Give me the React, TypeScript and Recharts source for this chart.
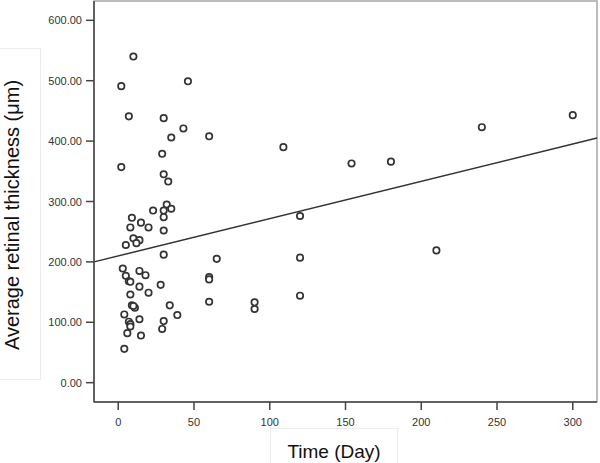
import {
  ScatterChart,
  Scatter,
  XAxis,
  YAxis,
  ReferenceLine,
  ReferenceArea,
  Label,
} from 'recharts';

// days since onset
const days = [
  10, 2, 46, 7, 30, 43, 35, 60, 29, 2, 30, 33, 109, 120, 65, 120, 60, 60, 60, 90, 90, 120,
  154, 180, 240, 300, 210,
  23, 32, 30, 35, 30, 9, 15, 8, 20, 30, 10, 14, 12, 5, 30, 3, 14, 18, 5,
  7, 8, 14, 28, 8, 20, 9, 11, 10, 34, 4, 39, 14, 30, 7, 8, 8, 29, 6, 15, 4,
];

// average retinal thickness (um)
const thickness = [
  540, 491, 499, 441, 438, 421, 406, 408, 379, 357, 345, 333, 390, 276, 205, 207, 175, 171, 134, 133, 122, 144,
  363, 366, 423, 443, 219,
  285, 295, 285, 288, 274, 273, 265, 257, 257, 252, 239, 236, 231, 228, 212, 189, 185, 178, 177,
  168, 167, 159, 162, 146, 149, 128, 124, 127, 128, 113, 112, 105, 102, 101, 97, 93, 89, 82, 78, 56,
];

const xTicks = [0, 50, 100, 150, 200, 250, 300];
const yTicks = [0, 100, 200, 300, 400, 500, 600];

// fitted line end points at the plot edges
const fitX = [-16, 316];
const fitY = [200, 405];

const points = days.map((d, i) => ({ day: d, value: thickness[i] }));

const font = '"Liberation Sans", Arial, sans-serif';

const OpenCircle = (props: any) => {
  const { cx, cy } = props;
  if (cx == null || cy == null) return null;
  return <circle cx={cx} cy={cy} r={3.2} fill="#fff" stroke="#333" strokeWidth={1.7} />;
};

const XTick = (props: any) => {
  const { x, y, payload } = props;
  return (
    <text x={x} y={y + 10} textAnchor="middle" fill="#333" fontSize={11} fontFamily={font}>
      {payload.value}
    </text>
  );
};

const YTick = (props: any) => {
  const { x, y, payload } = props;
  return (
    <text x={x} y={y + 4} textAnchor="end" fill="#333" fontSize={11} fontFamily={font}>
      {payload.value.toFixed(2)}
    </text>
  );
};

// label boxes as in the SPSS export
const XTitle = () => (
  <g>
    <rect x={270.5} y={428.5} width={127} height={40} fill="none" stroke="#ececec" />
    <text x={334} y={458} textAnchor="middle" fill="#111" fontSize={19} fontFamily={font}>
      Time (Day)
    </text>
  </g>
);

const YTitle = () => (
  <g>
    <rect x={-5} y={48.5} width={45.5} height={331} fill="none" stroke="#ececec" />
    <text
      x={19}
      y={215}
      transform="rotate(-90 19 215)"
      textAnchor="middle"
      fill="#111"
      fontSize={20}
      fontFamily={font}
    >
      Average retinal thickness (μm)
    </text>
  </g>
);

export default function App() {
  return (
    <div style={{ position: 'absolute', left: 0, top: 0, width: 600, height: 463, background: '#fff' }}>
      <ScatterChart width={600} height={463} margin={{ top: 1, right: 3, left: 0, bottom: 0 }}>
        <ReferenceArea
          x1={-16}
          x2={316}
          y1={-32}
          y2={632}
          fill="none"
          stroke="#a8a8a8"
          strokeWidth={1.5}
          ifOverflow="visible"
        />
        <XAxis
          type="number"
          dataKey="day"
          domain={[-16, 316]}
          ticks={xTicks}
          allowDataOverflow
          height={61}
          tickSize={8}
          tickMargin={6}
          stroke="#444"
          strokeWidth={1.5}
          tick={<XTick />}
        >
          <Label content={<XTitle />} />
        </XAxis>
        <YAxis
          type="number"
          dataKey="value"
          domain={[-32, 632]}
          ticks={yTicks}
          allowDataOverflow
          width={94}
          tickSize={8}
          tickMargin={4}
          stroke="#444"
          strokeWidth={1.5}
          tick={<YTick />}
        >
          <Label content={<YTitle />} />
        </YAxis>
        <ReferenceLine
          segment={[
            { x: fitX[0], y: fitY[0] },
            { x: fitX[1], y: fitY[1] },
          ]}
          stroke="#333"
          strokeWidth={1.5}
          ifOverflow="visible"
        />
        <Scatter data={points} shape={<OpenCircle />} isAnimationActive={false} />
      </ScatterChart>
    </div>
  );
}
